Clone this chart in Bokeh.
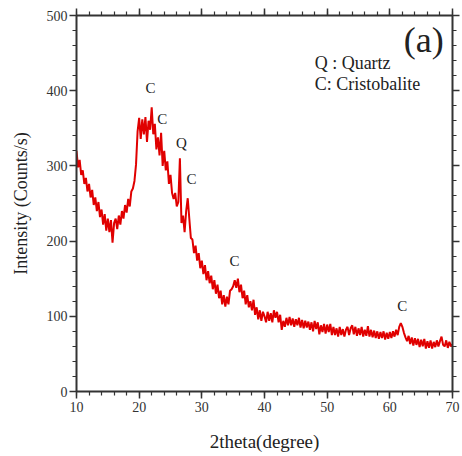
from bokeh.plotting import figure
from bokeh.models import LinearAxis, SingleIntervalTicker, CustomJSTickFormatter, Range1d
from bokeh.core.properties import value
from bokeh.embed import file_html
from bokeh.resources import INLINE
import numpy as np

scan_start = 10.0
scan_step = 0.25
intensity = [
    320, 298, 308, 288, 294, 276, 284, 266, 276, 258, 268, 248, 258, 240, 252, 232,
    242, 222, 236, 214, 230, 212, 228, 198, 224, 230, 216, 234, 222, 240, 230, 248,
    238, 256, 246, 266, 270, 280, 302, 346, 364, 336, 362, 342, 365, 332, 360, 348,
    378, 342, 356, 322, 338, 314, 344, 300, 320, 294, 306, 276, 288, 264, 256, 264,
    246, 252, 310, 224, 234, 212, 240, 257, 230, 204, 202, 184, 194, 174, 184, 164,
    174, 156, 168, 148, 160, 144, 154, 136, 148, 130, 142, 124, 134, 116, 128, 113,
    126, 116, 134, 136, 140, 148, 138, 150, 132, 142, 124, 134, 116, 128, 112, 120,
    108, 122, 102, 112, 96, 108, 94, 106, 100, 92, 106, 94, 104, 92, 108, 98,
    106, 92, 102, 82, 94, 86, 98, 88, 99, 88, 97, 86, 96, 88, 98, 85,
    95, 84, 94, 85, 93, 82, 92, 80, 94, 83, 92, 76, 88, 79, 90, 77,
    89, 79, 90, 75, 86, 75, 84, 73, 86, 75, 83, 73, 82, 86, 75, 84,
    88, 76, 86, 74, 84, 75, 86, 73, 82, 74, 87, 73, 82, 72, 81, 71,
    80, 70, 79, 71, 80, 69, 78, 70, 79, 71, 80, 73, 82, 75, 86, 91,
    86, 78, 72, 67, 74, 63, 72, 61, 71, 62, 70, 59, 69, 60, 70, 57,
    67, 58, 68, 57, 66, 59, 68, 60, 67, 73, 62, 60, 68, 58, 66, 60,
    63,
]
two_theta = list(scan_start + scan_step * np.arange(len(intensity)))

peak_labels = ["C", "C", "Q", "C", "C", "C"]
peak_x = [21.8, 23.7, 26.75, 28.35, 35.2, 62.0]
peak_y = [403, 363, 330, 283, 174, 114]

legend_lines = ["Q : Quartz", "C: Cristobalite"]
legend_x = [48.0, 48.0]
legend_y = [437, 409]

panel_label = "(a)"

FONT = "Liberation Serif"
AX = "#333333"

p = figure(width=462, height=456, output_backend="svg", toolbar_location=None,
           x_range=Range1d(10, 70), y_range=Range1d(0, 500),
           min_border_left=76, min_border_right=10, min_border_top=15, min_border_bottom=65)
p.outline_line_color = None
p.grid.visible = False
p.background_fill_color = "white"

p.line(two_theta, intensity, line_color="#e00000", line_width=2)

p.text(peak_x, peak_y, text=peak_labels, text_font=value(FONT), text_font_size="15px",
       text_align="center", text_baseline="middle", text_color="#222222")
p.text(legend_x, legend_y, text=legend_lines, text_font=value(FONT), text_font_size="18px",
       text_align="left", text_baseline="middle", text_color="#222222")
p.text([65.4], [467], text=[panel_label], text_font=value(FONT), text_font_size="36px",
       text_align="center", text_baseline="middle", text_color="#222222")

def style(ax):
    ax.axis_line_width = 2
    ax.axis_line_color = AX
    ax.major_tick_line_color = AX
    ax.minor_tick_line_color = AX
    ax.major_tick_line_width = 1.5
    ax.minor_tick_line_width = 1.2
    ax.major_tick_out = 7
    ax.major_tick_in = 0
    ax.minor_tick_out = 4
    ax.minor_tick_in = 0
    ax.major_label_text_font = FONT
    ax.major_label_text_font_size = "14px"
    ax.major_label_text_color = "#333333"
    ax.axis_label_text_font = FONT
    ax.axis_label_text_font_size = "18px"
    ax.axis_label_text_font_style = "normal"
    ax.axis_label_text_color = "#222222"

xt = SingleIntervalTicker(interval=10, num_minor_ticks=5)
yt = SingleIntervalTicker(interval=100, num_minor_ticks=5)

xa = p.xaxis[0]
xa.ticker = xt
xa.axis_label = "2theta(degree)"
style(xa)
xa.axis_label_text_font_size = "19px"
xa.major_label_standoff = 3
xa.axis_label_standoff = 16

ya = p.yaxis[0]
ya.ticker = yt
ya.axis_label = "Intensity (Counts/s)"
style(ya)
ya.major_label_standoff = 2
ya.axis_label_standoff = 13

blank = CustomJSTickFormatter(code="return ''")
top = LinearAxis(ticker=SingleIntervalTicker(interval=10, num_minor_ticks=5), formatter=blank)
style(top)
top.major_label_standoff = 0
p.add_layout(top, "above")
right = LinearAxis(ticker=SingleIntervalTicker(interval=100, num_minor_ticks=5), formatter=blank)
style(right)
right.major_label_standoff = 0
p.add_layout(right, "right")

open("out.html", "w").write(file_html(p, INLINE))
